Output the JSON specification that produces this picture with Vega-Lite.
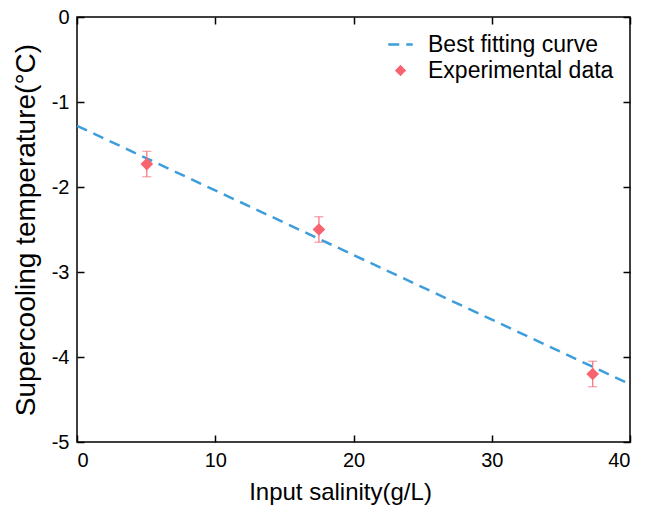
{
  "$schema": "https://vega.github.io/schema/vega-lite/v6.json",
  "width": 553,
  "height": 425,
  "autosize": "none",
  "padding": {"left": 77, "top": 17, "right": 15, "bottom": 74},
  "config": {
    "font": "Liberation Sans",
    "view": {"stroke": "black", "strokeWidth": 1.5},
    "axis": {
      "grid": false,
      "domain": false,
      "tickColor": "black",
      "tickSize": -7,
      "tickWidth": 1.5,
      "labelFontSize": 20,
      "labelColor": "black",
      "titleFontSize": 24,
      "titleFontWeight": "normal",
      "titleColor": "black",
      "labelFont": "Liberation Sans",
      "titleFont": "Liberation Sans"
    },
    "legend": {"labelFontSize": 23, "labelColor": "black", "labelFont": "Liberation Sans", "labelLimit": 400}
  },
  "datasets": {
    "fit": [
      {"salinity": 0, "temp": -1.28, "series": "Best fitting curve"},
      {"salinity": 40, "temp": -4.32, "series": "Best fitting curve"}
    ],
    "exp": [
      {"salinity": 5.05, "temp": -1.73, "lo": -1.88, "hi": -1.58, "series": "Experimental data"},
      {"salinity": 17.5, "temp": -2.5, "lo": -2.65, "hi": -2.35, "series": "Experimental data"},
      {"salinity": 37.3, "temp": -4.2, "lo": -4.35, "hi": -4.05, "series": "Experimental data"}
    ]
  },
  "layer": [
    {
      "data": {"name": "fit"},
      "mark": {"type": "line", "strokeWidth": 2.5},
      "encoding": {
        "x": {"field": "salinity", "type": "quantitative", "scale": {"domain": [0, 40], "nice": false},
              "axis": {"title": "Input salinity(g/L)", "values": [0, 10, 20, 30, 40], "labelPadding": 15, "titlePadding": 10, "titleX": 263}},
        "y": {"field": "temp", "type": "quantitative", "scale": {"domain": [-5, 0], "nice": false},
              "axis": {"title": "Supercooling temperature(°C)", "titleFontSize": 28, "values": [-5, -4, -3, -2, -1, 0], "labelPadding": 15, "titlePadding": 11, "labelExpr": "toString(datum.value)"}},
        "color": {"field": "series", "type": "nominal",
                  "scale": {"domain": ["Best fitting curve", "Experimental data"], "range": ["#3d9edb", "#f7636f"]},
                  "legend": {"title": null, "orient": "top-right", "offset": 16, "padding": 0, "labelOffset": 16, "rowPadding": 2,
                             "symbolSize": 600, "symbolStrokeWidth": 2.5, "symbolDash": [9, 7],
                             "encode": {"symbols": {"update": {
                               "stroke": {"signal": "datum.value === 'Best fitting curve' ? '#3d9edb' : 'transparent'"},
                               "fill": {"signal": "datum.value === 'Best fitting curve' ? 'transparent' : '#f7636f'"},
                               "shape": {"signal": "datum.value === 'Best fitting curve' ? 'stroke' : 'diamond'"},
                               "size": {"signal": "datum.value === 'Best fitting curve' ? 600 : 60"},
                               "strokeWidth": {"value": 2.5},
                               "opacity": {"value": 1}
                             }}}}},
        "strokeDash": {"field": "series", "type": "nominal", "scale": {"domain": ["Best fitting curve", "Experimental data"], "range": [[11, 7], [1, 0]]}, "legend": null}
      }
    },
    {
      "data": {"name": "exp"},
      "mark": {"type": "rule", "color": "#f5707c", "strokeWidth": 1.2},
      "encoding": {
        "x": {"field": "salinity", "type": "quantitative", "axis": null},
        "y": {"field": "lo", "type": "quantitative", "axis": null},
        "y2": {"field": "hi"}
      }
    },
    {
      "data": {"name": "exp"},
      "mark": {"type": "tick", "color": "#f5707c", "orient": "horizontal", "size": 9, "thickness": 1.2},
      "encoding": {
        "x": {"field": "salinity", "type": "quantitative", "axis": null},
        "y": {"field": "lo", "type": "quantitative", "axis": null}
      }
    },
    {
      "data": {"name": "exp"},
      "mark": {"type": "tick", "color": "#f5707c", "orient": "horizontal", "size": 9, "thickness": 1.2},
      "encoding": {
        "x": {"field": "salinity", "type": "quantitative", "axis": null},
        "y": {"field": "hi", "type": "quantitative", "axis": null}
      }
    },
    {
      "data": {"name": "exp"},
      "mark": {"type": "point", "filled": true, "opacity": 1, "size": 160, "shape": "diamond"},
      "encoding": {
        "x": {"field": "salinity", "type": "quantitative", "axis": null},
        "y": {"field": "temp", "type": "quantitative", "axis": null},
        "color": {"field": "series", "type": "nominal"}
      }
    },
    {
      "data": {"name": "fit"},
      "mark": {"type": "rule", "opacity": 0},
      "encoding": {
        "x": {"field": "salinity", "type": "quantitative", "axis": {"orient": "top", "labels": false, "title": null, "values": [0, 10, 20, 30, 40]}},
        "y": {"field": "temp", "type": "quantitative", "axis": {"orient": "right", "labels": false, "title": null, "values": [-5, -4, -3, -2, -1, 0]}}
      }
    }
  ],
  "resolve": {"axis": {"x": "independent", "y": "independent"}}
}
